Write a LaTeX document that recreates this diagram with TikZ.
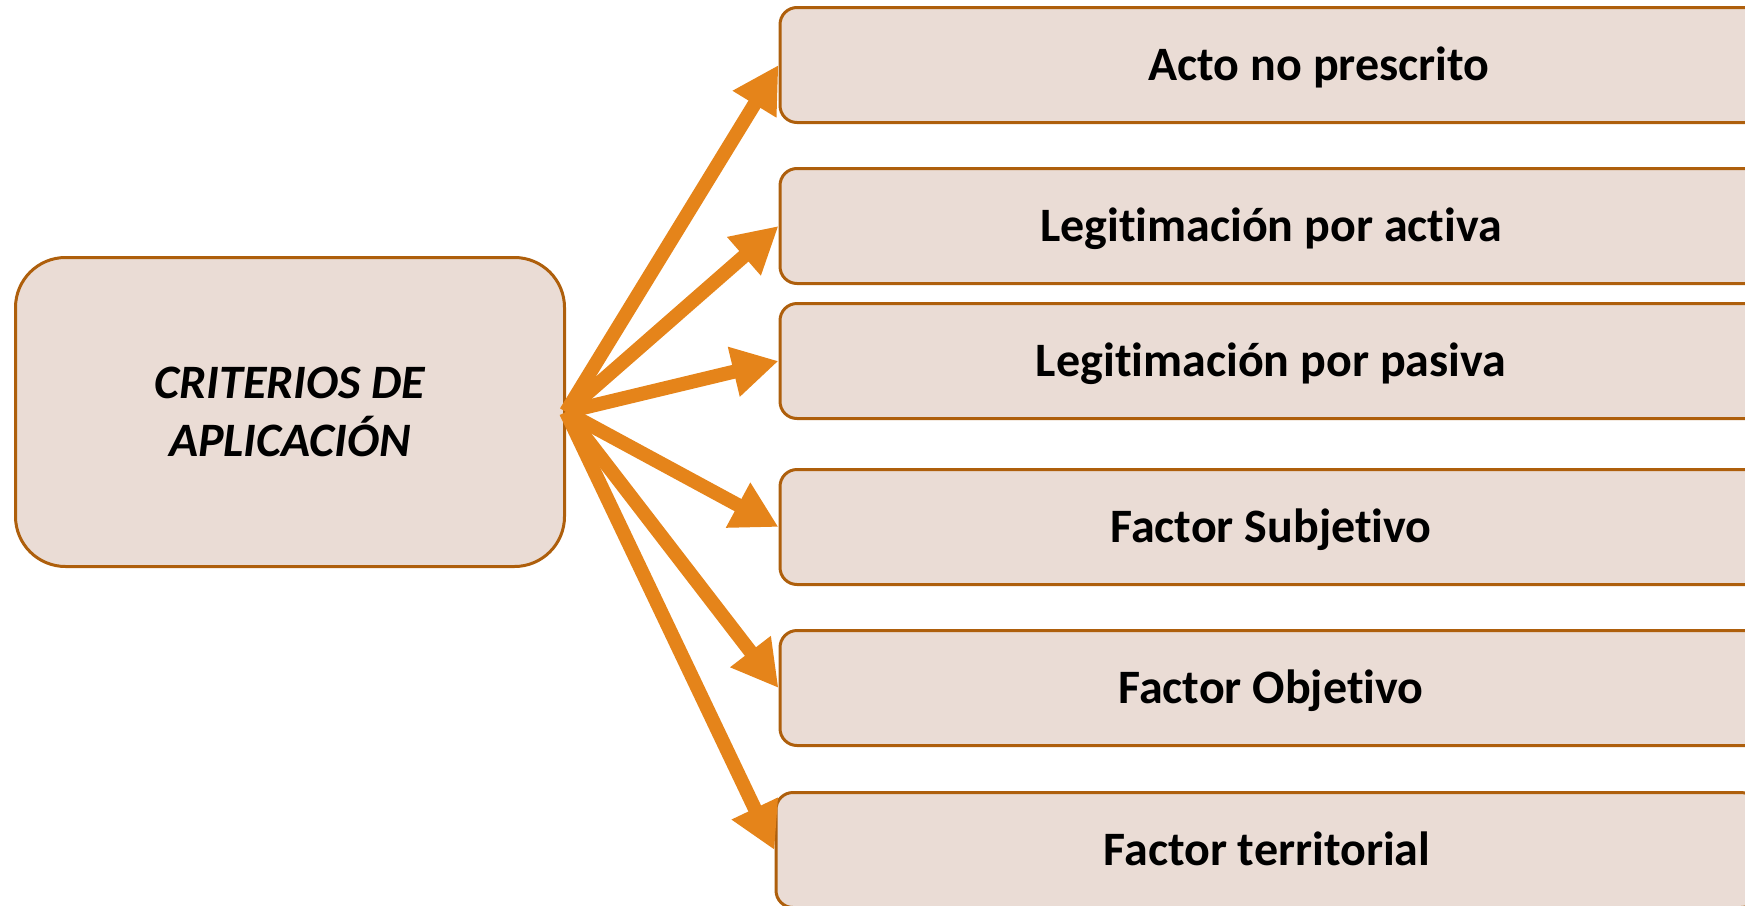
\documentclass[tikz,border=0pt]{standalone}
\usepackage{fontspec}
\setmainfont{Carlito}[Ligatures=NoCommon]
\usetikzlibrary{arrows.meta}

\definecolor{boxfill}{HTML}{EADCD5}
\definecolor{boxline}{HTML}{AE5F0C}
\definecolor{arrowcol}{HTML}{E5841A}

\begin{document}
\begin{tikzpicture}[
    x=1pt, y=-1pt,
    mainbox/.style={
        rectangle, draw=boxline, fill=boxfill, line width=3pt,
        rounded corners=50pt, minimum width=549pt, minimum height=309pt,
        inner sep=0pt, align=center,
        font=\fontsize{48}{58}\selectfont\bfseries\itshape},
    itembox/.style={
        rectangle, draw=boxline, fill=boxfill, line width=3pt,
        rounded corners=17pt, minimum width=982pt, minimum height=115pt,
        inner sep=0pt, text height=31pt, text depth=0pt,
        font=\fontsize{48}{58}\selectfont\bfseries},
    arr/.style={-{Triangle[length=46pt, width=48pt]},
        draw=arrowcol, line width=14pt}
]
\useasboundingbox (0,0) rectangle (1745,905);

%% ── Main criterion box (left) ───────────────────────────────────
\node[mainbox] (crit) at (290, 412) {CRITERIOS DE\\APLICACIÓN};

%% ── Criteria boxes (right, cut by the page edge) ────────────────
\node[itembox] (acto)   at (1271,  65) {\hspace*{96pt}Acto no prescrito};
\node[itembox] (activa) at (1271, 226) {Legitimación por activa};
\node[itembox] (pasiva) at (1271, 361) {Legitimación por pasiva};
\node[itembox] (subj)   at (1271, 527) {Factor Subjetivo};
\node[itembox] (obj)    at (1271, 688) {Factor Objetivo};
\node[itembox] (terr)   at (1267, 850) {Factor territorial};

%% ── Arrows: criteria → each box ─────────────────────────────────
\draw[arr] (crit.east) -- (acto.west);
\draw[arr] (crit.east) -- (activa.west);
\draw[arr] (crit.east) -- (pasiva.west);
\draw[arr] (crit.east) -- (subj.west);
\draw[arr] (crit.east) -- (obj.west);
\draw[arr] (crit.east) -- (terr.west);

\end{tikzpicture}
\end{document}
